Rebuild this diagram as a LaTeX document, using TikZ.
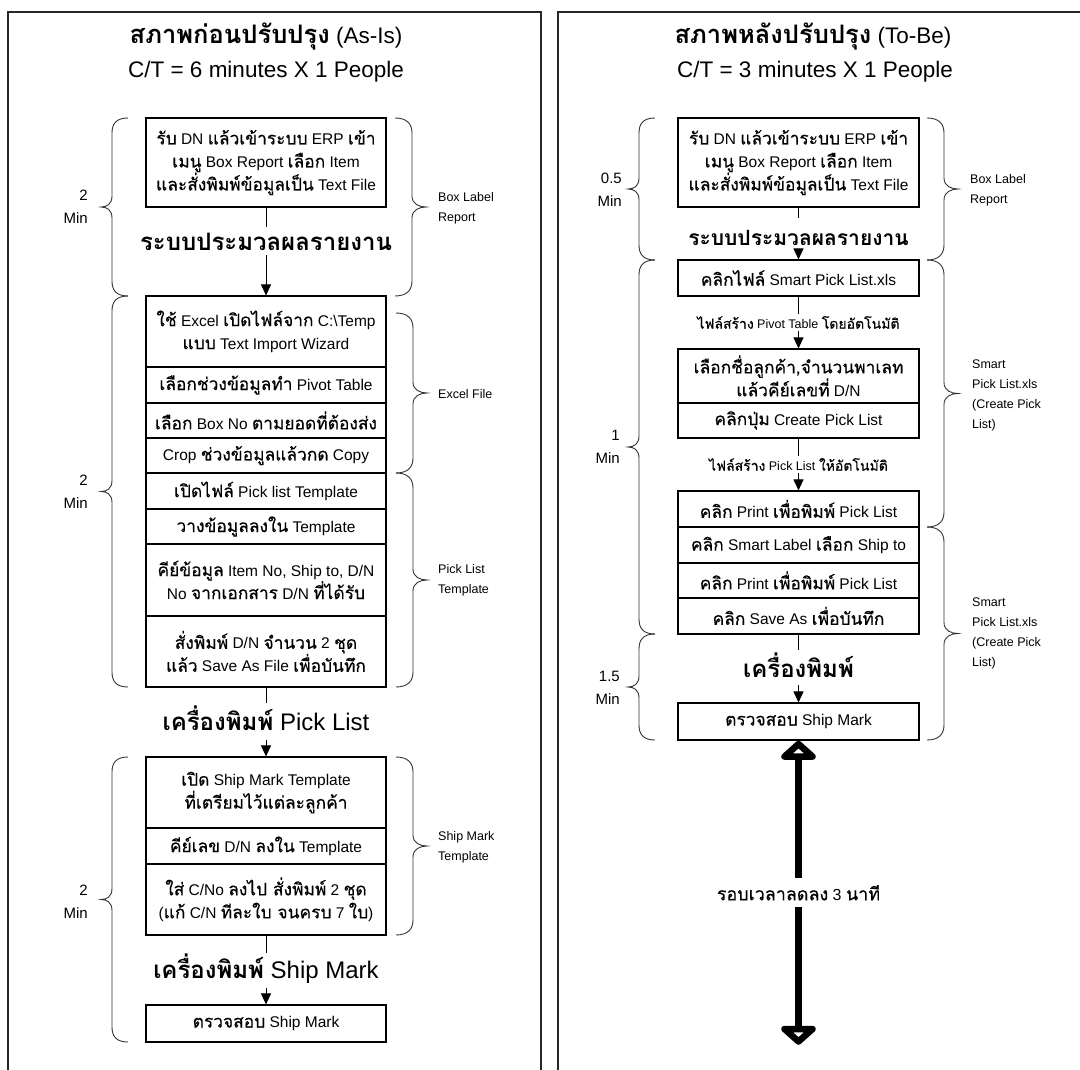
\documentclass[tikz,border=0pt]{standalone}
\usepackage{fontspec}
\setmainfont{Liberation Sans}
\newfontfamily\thaifont[Script=Thai, Scale=1.12, FakeBold=0.4]{Loma}
\newfontfamily\thaibold[Script=Thai]{Loma Bold}
\newcommand\T[1]{{\thaifont #1}}
\newcommand\TB[1]{{\thaibold #1}}
\usetikzlibrary{arrows.meta,calc}

% curly brace opening to the right (tip on the left): end x, top y, bottom y
\newcommand\curlyL[3]{%
  \pgfmathsetmacro\cym{(#2+#3)/2}%
  \draw[bracepen] (#1,#2) .. controls +(-12,0) and +(0,-9) .. (#1-16,#2+15)
     -- (#1-16,\cym-11) .. controls +(0,8) and +(6,0) .. (#1-27,\cym)
     .. controls +(6,0) and +(0,-8) .. (#1-16,\cym+11)
     -- (#1-16,#3-15) .. controls +(0,9) and +(-12,0) .. (#1,#3);}
% curly brace opening to the left (tip on the right)
\newcommand\curlyR[3]{%
  \pgfmathsetmacro\cym{(#2+#3)/2}%
  \draw[bracepen] (#1,#2) .. controls +(12,0) and +(0,-9) .. (#1+17,#2+15)
     -- (#1+17,\cym-11) .. controls +(0,8) and +(-7,0) .. (#1+31,\cym)
     .. controls +(-7,0) and +(0,-8) .. (#1+17,\cym+11)
     -- (#1+17,#3-15) .. controls +(0,9) and +(12,0) .. (#1,#3);}

\begin{document}
\begin{tikzpicture}[x=1pt,y=-1pt,
  panel/.style={line width=1.3pt, draw=black!85},
  bracepen/.style={line width=0.9pt, draw=black!80},
  stepbox/.style={draw, line width=1.1pt, minimum width=240pt, inner sep=0pt,
    align=center, font=\fontsize{15.5}{23}\selectfont},
  stage/.style={inner sep=0pt, font=\fontsize{24}{28}\selectfont},
  title/.style={inner sep=0pt, font=\fontsize{22.5}{26}\selectfont},
  minlab/.style={anchor=east, align=right, inner sep=0pt, font=\fontsize{15}{23}\selectfont},
  sidelab/.style={anchor=west, align=left, inner sep=0pt, font=\fontsize{12.5}{20}\selectfont},
  flowlab/.style={fill=white, inner sep=2pt, font=\fontsize{12.5}{15}\selectfont},
  link/.style={line width=0.9pt},
  arr/.style={line width=0.9pt, -{Triangle[length=11pt,width=10pt]}},
  shaft/.style={line width=6.5pt},
  bighead/.style={line width=6.5pt, line join=round, fill=white},
]
\useasboundingbox (0,0) rectangle (1080,1070);
\fill[white] (0,0) rectangle (1080,1070);

% panel frames
\draw[panel] (8,1070) -- (8,12) -- (541,12) -- (541,1070);
\draw[panel] (558,1070) -- (558,12) -- (1080,12);

% ================= As-Is =================
\node[title] (tiL1) at (266,37) {{\fontsize{25.5}{26}\selectfont\TB{สภาพก่อนปรับปรุง}} (As-Is)};
\node[title] (tiL2) at (266,72) {C/T = 6 minutes X 1 People};

\node[stepbox, minimum height=89pt] (a0) at (266,162.5)
  {\T{รับ} DN \T{แล้วเข้าระบบ} ERP \T{เข้า}\\\T{เมนู} Box Report \T{เลือก} Item\\\T{และสั่งพิมพ์ข้อมูลเป็น} Text File};
\node[stage, text height=24pt, text depth=4pt] (ap1) at (266,241) {\TB{ระบบประมวลผลรายงาน}};

\node[stepbox, minimum height=71pt] (a1) at (266,331.5)
  {\T{ใช้} Excel \T{เปิดไฟล์จาก} C:\textbackslash Temp\\\T{แบบ} Text Import Wizard};
\node[stepbox, minimum height=36pt] (a2) at (266,385) {\T{เลือกช่วงข้อมูลทำ} Pivot Table};
\node[stepbox, minimum height=35pt] (a3) at (266,420.5) {\T{เลือก} Box No \T{ตามยอดที่ต้องส่ง}};
\node[stepbox, minimum height=35pt] (a4) at (266,455.5) {Crop \T{ช่วงข้อมูลแล้วกด} Copy};
\node[stepbox, minimum height=36pt] (a5) at (266,491) {\T{เปิดไฟล์} Pick list Template};
\node[stepbox, minimum height=35pt] (a6) at (266,526.5) {\T{วางข้อมูลลงใน} Template};
\node[stepbox, minimum height=72pt] (a7) at (266,580)
  {\T{คีย์ข้อมูล} Item No, Ship to, D/N\\No \T{จากเอกสาร} D/N \T{ที่ได้รับ}};
\node[stepbox, minimum height=71pt] (a8) at (266,651.5)
  {\T{สั่งพิมพ์} D/N \T{จำนวน} 2 \T{ชุด}\\\T{แล้ว} Save As File \T{เพื่อบันทึก}};

\node[stage, text height=27pt, text depth=10pt] (ap2) at (266,721.5) {\TB{เครื่องพิมพ์} Pick List};

\node[stepbox, minimum height=71pt] (m1) at (266,792.5)
  {\T{เปิด} Ship Mark Template\\\T{ที่เตรียมไว้แต่ละลูกค้า}};
\node[stepbox, minimum height=36pt] (m2) at (266,846) {\T{คีย์เลข} D/N \T{ลงใน} Template};
\node[stepbox, minimum height=71pt] (m3) at (266,899.5)
  {\T{ใส่} C/No \T{ลงไป สั่งพิมพ์} 2 \T{ชุด}\\(\T{แก้} C/N \T{ทีละใบ จนครบ} 7 \T{ใบ})};

\node[stage, text height=25pt, text depth=10pt] (ap3) at (266,970.5) {\TB{เครื่องพิมพ์} Ship Mark};
\node[stepbox, minimum height=37pt] (ac) at (266,1023.5) {\T{ตรวจสอบ} Ship Mark};

\draw[link] (a0) -- (ap1);
\draw[arr] (ap1) -- (a1);
\draw[link] (a8) -- (ap2);
\draw[arr] (ap2) -- (m1);
\draw[link] (m3) -- (ap3);
\draw[arr] (ap3) -- (ac);

% time braces and labels
\curlyL{128}{118}{296}
\curlyL{128}{296}{687}
\curlyL{128}{757}{1042}
\node[minlab] (tL1) at (88,207) {2\\Min};
\node[minlab] (tL2) at (88,492) {2\\Min};
\node[minlab] (tL3) at (88,902) {2\\Min};

\curlyR{395}{118}{296}
\curlyR{396}{313}{473}
\curlyR{396}{473}{687}
\curlyR{396}{757}{935}
\node[sidelab] (gL1) at (438,208) {Box Label\\Report};
\node[sidelab] (gL2) at (438,394) {Excel File};
\node[sidelab] (gL3) at (438,580) {Pick List\\Template};
\node[sidelab] (gL4) at (438,847) {Ship Mark\\Template};

% ================= To-Be =================
\node[title] (tiR1) at (813,37) {{\fontsize{25.5}{26}\selectfont\TB{สภาพหลังปรับปรุง}} (To-Be)};
\node[title] (tiR2) at (815,72) {C/T = 3 minutes X 1 People};

\node[stepbox, minimum width=241pt, minimum height=89pt] (b0) at (798.5,162.5)
  {\T{รับ} DN \T{แล้วเข้าระบบ} ERP \T{เข้า}\\\T{เมนู} Box Report \T{เลือก} Item\\\T{และสั่งพิมพ์ข้อมูลเป็น} Text File};
\node[stage, text height=27pt, text depth=4pt, font=\fontsize{21}{25}\selectfont] (bp1) at (798.5,233.5) {\TB{ระบบประมวลผลรายงาน}};
\node[stepbox, minimum width=241pt, minimum height=36pt] (b1) at (798.5,278) {\T{คลิกไฟล์} Smart Pick List.xls};
\node[stepbox, minimum width=241pt, minimum height=54pt] (b2) at (798.5,376)
  {\T{เลือกชื่อลูกค้า,จำนวนพาเลท}\\\T{แล้วคีย์เลขที่} D/N};
\node[stepbox, minimum width=241pt, minimum height=35pt] (b3) at (798.5,420.5) {\T{คลิกปุ่ม} Create Pick List};
\node[stepbox, minimum width=241pt, minimum height=36pt] (b4) at (798.5,509) {\T{คลิก} Print \T{เพื่อพิมพ์} Pick List};
\node[stepbox, minimum width=241pt, minimum height=36pt] (b5) at (798.5,545) {\T{คลิก} Smart Label \T{เลือก} Ship to};
\node[stepbox, minimum width=241pt, minimum height=35pt] (b6) at (798.5,580.5) {\T{คลิก} Print \T{เพื่อพิมพ์} Pick List};
\node[stepbox, minimum width=241pt, minimum height=36pt] (b7) at (798.5,616) {\T{คลิก} Save As \T{เพื่อบันทึก}};
\node[stage, text height=27pt, text depth=8pt] (bp2) at (798.5,667.5) {\TB{เครื่องพิมพ์}};
\node[stepbox, minimum width=241pt, minimum height=37pt] (bc) at (798.5,721.5) {\T{ตรวจสอบ} Ship Mark};

\draw[link] (b0) -- (bp1);
\draw[arr] (bp1) -- (b1);
\draw[arr] (b1) -- node[flowlab] (fl1) {\T{ไฟล์สร้าง} Pivot Table \T{โดยอัตโนมัติ}} (b2);
\draw[arr] (b3) -- node[flowlab] (fl2) {\T{ไฟล์สร้าง} Pick List \T{ให้อัตโนมัติ}} (b4);
\draw[link] (b7) -- (bp2);
\draw[arr] (bp2) -- (bc);

% cycle-time reduction arrow: thick shaft with two heavy heads
\coordinate (bigEnd) at (798.5,1045);
\draw[shaft] ($(bc.south)+(0,14)$) -- node[midway, fill=white, inner xsep=3pt, inner ysep=7pt,
  font=\fontsize{16}{18}\selectfont] (cut) {\T{รอบเวลาลดลง} 3 \T{นาที}} ($(bigEnd)+(0,-14)$);
\draw[bighead] ($(bc.south)+(0,3.5)$) -- ++(-14,12.5) -- ++(28,0) -- cycle;
\draw[bighead] ($(bigEnd)+(0,-3.5)$) -- ++(-14,-12.5) -- ++(28,0) -- cycle;

% time braces and labels
\curlyL{655}{118}{260}
\curlyL{655}{260}{634}
\curlyL{655}{634}{740}
\node[minlab] (tR1) at (622,190) {0.5\\Min};
\node[minlab] (tR2) at (620,447) {1\\Min};
\node[minlab] (tR3) at (620,688) {1.5\\Min};

\curlyR{927}{118}{260}
\curlyR{927}{260}{527}
\curlyR{927}{527}{740}
\node[sidelab] (gR1) at (970,190) {Box Label\\Report};
\node[sidelab] (gR2) at (972,395) {Smart\\Pick List.xls\\(Create Pick\\List)};
\node[sidelab] (gR3) at (972,633) {Smart\\Pick List.xls\\(Create Pick\\List)};
\end{tikzpicture}
\end{document}
